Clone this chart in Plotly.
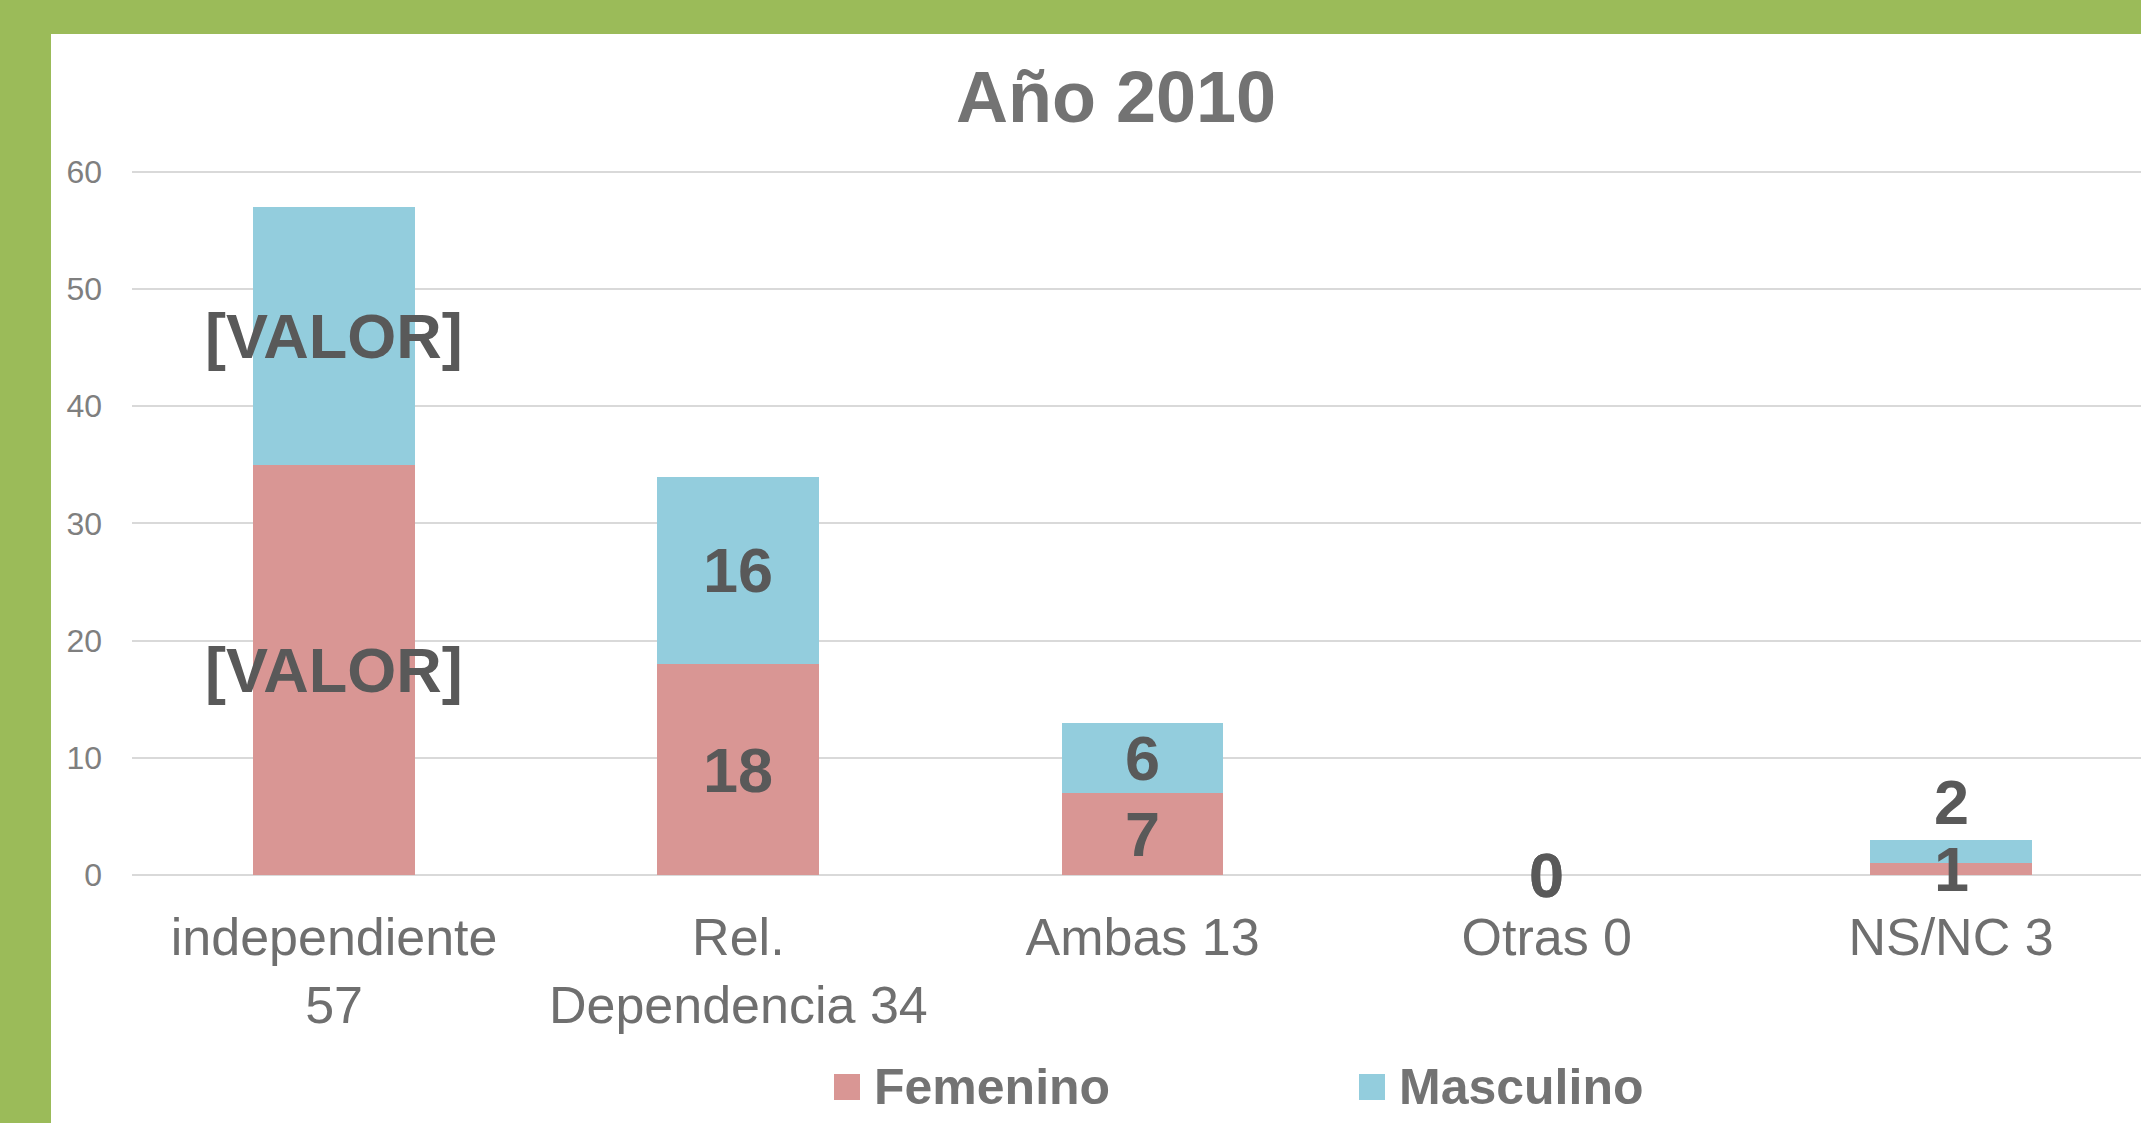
import plotly.graph_objects as go

# ---- data ----
categories = ["independiente<br>57", "Rel.<br>Dependencia 34", "Ambas 13", "Otras 0", "NS/NC 3"]
series_names = ["Femenino", "Masculino"]
femenino = [35, 18, 7, 0, 1]
masculino = [22, 16, 6, 0, 2]
femenino_labels = ["[VALOR]", "18", "7", "0", "1"]
masculino_labels = ["[VALOR]", "16", "6", "0", "2"]
y_ticks = [0, 10, 20, 30, 40, 50, 60]

# ---- style ----
W, H = 2141, 1123
Y_TOP = 60.15
L, R, B = 132, 0, 248
T = int(round(172 - (Y_TOP - 60) * 703 / 60))
PW, PH = W - L - R, H - T - B
C_FEM = "#D99694"
C_MAS = "#93CDDD"
GREEN = "#9BBB59"
LABEL_C = "#595959"
FONT = "Liberation Sans, Arial, sans-serif"


def px_x(p):
    return (p - L) / PW


def px_y(p):
    return (H - B - p) / PH


fig = go.Figure()
fig.add_trace(go.Bar(x=categories, y=femenino, name=series_names[0],
                     marker=dict(color=C_FEM, line=dict(width=0)), showlegend=False))
fig.add_trace(go.Bar(x=categories, y=masculino, name=series_names[1],
                     marker=dict(color=C_MAS, line=dict(width=0)), showlegend=False))

annotations = []
for i, cat in enumerate(categories):
    f, m = femenino[i], masculino[i]
    annotations.append(dict(x=cat, y=f / 2, xref="x", yref="y", text=f"<b>{femenino_labels[i]}</b>",
                            showarrow=False, font=dict(family=FONT, size=63, color=LABEL_C),
                            xanchor="center", yanchor="middle"))
    shift = 50 if (m > 0 and f + m < 5) else 0
    annotations.append(dict(x=cat, y=f + m / 2, xref="x", yref="y", text=f"<b>{masculino_labels[i]}</b>",
                            showarrow=False, font=dict(family=FONT, size=63, color=LABEL_C),
                            xanchor="center", yanchor="middle", yshift=shift))

# manual legend (large square swatches)
shapes = []
legend_items = [(series_names[0], C_FEM, 834), (series_names[1], C_MAS, 1359)]
for name, col, sx in legend_items:
    shapes.append(dict(type="rect", xref="paper", yref="paper",
                       x0=px_x(sx), x1=px_x(sx + 26), y0=px_y(1100), y1=px_y(1074),
                       fillcolor=col, line=dict(width=0)))
    annotations.append(dict(x=px_x(sx + 38), y=px_y(1087), xref="paper", yref="paper",
                            text=f"<b>{name}</b>", showarrow=False, xanchor="left", yanchor="middle",
                            font=dict(family=FONT, size=50, color="#737373")))

# green frame bands
shapes.append(dict(type="rect", xref="paper", yref="paper", x0=px_x(0), x1=px_x(51),
                   y0=px_y(H), y1=px_y(0), fillcolor=GREEN, line=dict(width=0)))
shapes.append(dict(type="rect", xref="paper", yref="paper", x0=px_x(0), x1=1.0,
                   y0=px_y(34), y1=px_y(0), fillcolor=GREEN, line=dict(width=0)))

fig.update_layout(
    width=W, height=H,
    margin=dict(l=L, r=R, t=T, b=B),
    paper_bgcolor="white", plot_bgcolor="white",
    barmode="stack", bargap=0.6,
    title=dict(text="<b>Año 2010</b>", x=px_x(1116), xref="paper", xanchor="center",
               y=1 - 97 / H, yref="container", yanchor="middle",
               font=dict(family=FONT, size=72, color="#737373")),
    xaxis=dict(range=[-0.5, 4.47], showgrid=False, showline=False, zeroline=False,
               tickfont=dict(family=FONT, size=52, color="#6F6F6F"), ticks="",
               ticklabelstandoff=27),
    yaxis=dict(range=[0, Y_TOP], tickvals=y_ticks, showgrid=True, gridcolor="#D9D9D9", gridwidth=1.5,
               zeroline=True, zerolinecolor="#D9D9D9", zerolinewidth=1.5, showline=False,
               tickfont=dict(family=FONT, size=32, color="#7F7F7F"), ticks="",
               ticklabelstandoff=29),
    shapes=shapes,
    annotations=annotations,
    showlegend=False,
)

fig.write_html("out.html", config={"displayModeBar": False},
               post_script="document.body.style.margin='0';document.body.style.padding='0';")
